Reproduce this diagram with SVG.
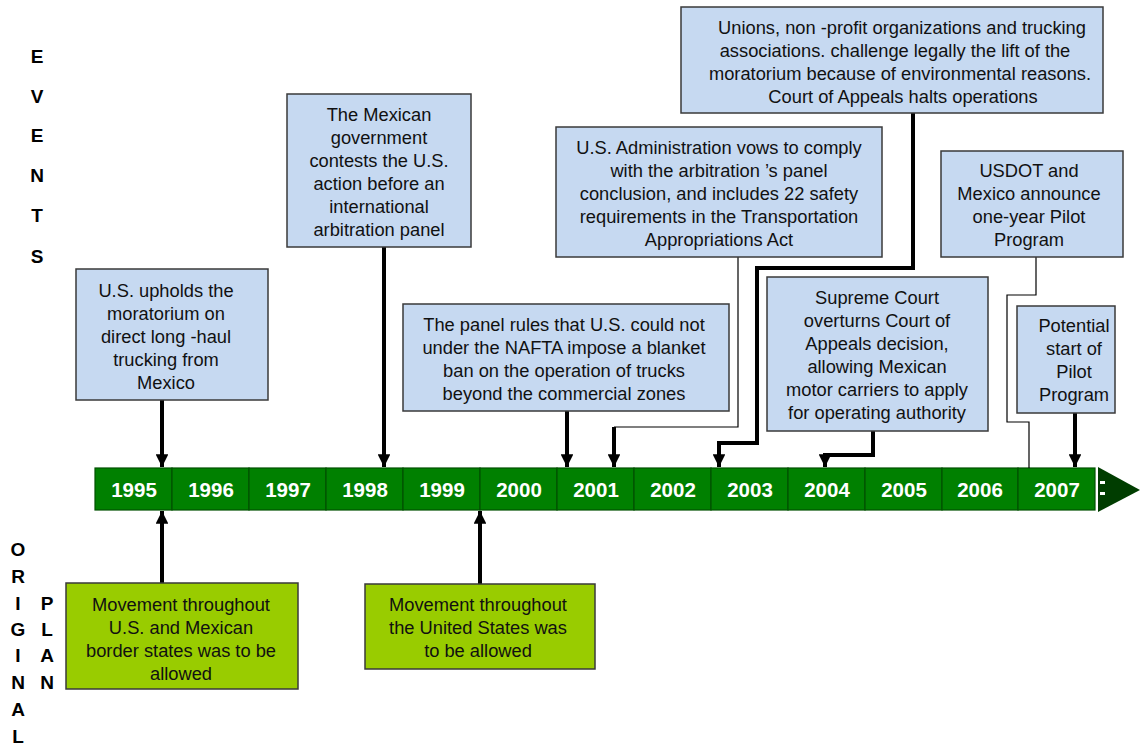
<svg xmlns="http://www.w3.org/2000/svg" width="1140" height="746" viewBox="0 0 1140 746">
<defs>
<style>
.ev{fill:#c6d9f1;stroke:#3a3a3a;stroke-width:1.5}
.op{fill:#99cc00;stroke:#3a3a3a;stroke-width:1.5}
.t{font-family:"Liberation Sans",Arial,sans-serif;font-size:18.3px;fill:#111;text-anchor:middle}
.yr{font-family:"Liberation Sans",Arial,sans-serif;font-size:20.5px;font-weight:bold;fill:#fff;text-anchor:middle}
.lb{font-family:"Liberation Sans",Arial,sans-serif;font-size:19px;font-weight:bold;fill:#000;text-anchor:middle}
.thick{fill:none;stroke:#000;stroke-width:4}
.thin{fill:none;stroke:#000;stroke-width:1.2}
.cell{fill:#008000;stroke:#005000;stroke-width:1.2}
</style>
<marker id="ah" viewBox="0 0 10 10" refX="10" refY="5" markerWidth="3.2" markerHeight="3.2" orient="auto" markerUnits="strokeWidth">
<path d="M0,0 L10,5 L0,10 z" fill="#000"/>
</marker>
</defs>
<rect width="1140" height="746" fill="#fff"/>

<g id="side-labels">
<text class="lb" x="37" y="63">E</text>
<text class="lb" x="37" y="103">V</text>
<text class="lb" x="37" y="142">E</text>
<text class="lb" x="37" y="182">N</text>
<text class="lb" x="37" y="222">T</text>
<text class="lb" x="37" y="263">S</text>
<text class="lb" x="18" y="556">O</text>
<text class="lb" x="18" y="583">R</text>
<text class="lb" x="18" y="610">I</text>
<text class="lb" x="18" y="636">G</text>
<text class="lb" x="18" y="662">I</text>
<text class="lb" x="18" y="689">N</text>
<text class="lb" x="18" y="716">A</text>
<text class="lb" x="18" y="743">L</text>
<text class="lb" x="47" y="610">P</text>
<text class="lb" x="47" y="636">L</text>
<text class="lb" x="47" y="662">A</text>
<text class="lb" x="47" y="689">N</text>
</g>

<g id="timeline">
<rect class="cell" x="95" y="468" width="77" height="42"/>
<rect class="cell" x="172" y="468" width="77" height="42"/>
<rect class="cell" x="249" y="468" width="77" height="42"/>
<rect class="cell" x="326" y="468" width="77" height="42"/>
<rect class="cell" x="403" y="468" width="77" height="42"/>
<rect class="cell" x="480" y="468" width="77" height="42"/>
<rect class="cell" x="557" y="468" width="77" height="42"/>
<rect class="cell" x="634" y="468" width="77" height="42"/>
<rect class="cell" x="711" y="468" width="77" height="42"/>
<rect class="cell" x="788" y="468" width="77" height="42"/>
<rect class="cell" x="865" y="468" width="77" height="42"/>
<rect class="cell" x="942" y="468" width="76" height="42"/>
<rect class="cell" x="1018" y="468" width="77" height="42"/>
<text class="yr" x="134" y="497">1995</text>
<text class="yr" x="211" y="497">1996</text>
<text class="yr" x="288" y="497">1997</text>
<text class="yr" x="365" y="497">1998</text>
<text class="yr" x="442" y="497">1999</text>
<text class="yr" x="519" y="497">2000</text>
<text class="yr" x="596" y="497">2001</text>
<text class="yr" x="673" y="497">2002</text>
<text class="yr" x="750" y="497">2003</text>
<text class="yr" x="827" y="497">2004</text>
<text class="yr" x="904" y="497">2005</text>
<text class="yr" x="980" y="497">2006</text>
<text class="yr" x="1057" y="497">2007</text>
<path d="M1098,467 L1140,490 L1098,512 z" fill="#003d00"/>
<rect x="1100" y="481" width="5" height="3" fill="#fff"/>
<rect x="1100" y="492" width="5" height="3" fill="#fff"/>
</g>

<g id="connectors">
<path class="thick" d="M162,400 V467" marker-end="url(#ah)"/>
<path class="thick" d="M384,247 V467" marker-end="url(#ah)"/>
<path class="thick" d="M567,411 V467" marker-end="url(#ah)"/>
<path class="thin" d="M738,257 V427 H614"/>
<path class="thick" d="M614,427 V467" marker-end="url(#ah)"/>
<path class="thick" d="M913,113 V268 H757 V443 H719 V467" marker-end="url(#ah)"/>
<path class="thick" d="M873,431 V455 H825 V467" marker-end="url(#ah)"/>
<path class="thin" d="M1036,257 V295 H1007 V422 H1029 V468"/>
<path class="thick" d="M1075,413 V467" marker-end="url(#ah)"/>
<path class="thick" d="M162,583 V511" marker-end="url(#ah)"/>
<path class="thick" d="M480,584 V511" marker-end="url(#ah)"/>
</g>

<g id="ev1995">
<rect class="ev" x="76" y="269" width="192" height="131"/>
<text class="t"><tspan x="166" y="297">U.S. upholds the</tspan><tspan x="166" y="320">moratorium on</tspan><tspan x="166" y="343">direct long -haul</tspan><tspan x="166" y="366">trucking from</tspan><tspan x="166" y="389">Mexico</tspan></text>
</g>

<g id="ev1998">
<rect class="ev" x="287" y="94" width="184" height="153"/>
<text class="t"><tspan x="379" y="121">The Mexican</tspan><tspan x="379" y="144">government</tspan><tspan x="379" y="167">contests the U.S.</tspan><tspan x="379" y="190">action before an</tspan><tspan x="379" y="213">international</tspan><tspan x="379" y="236">arbitration panel</tspan></text>
</g>

<g id="ev2001panel">
<rect class="ev" x="403" y="304" width="326" height="107"/>
<text class="t"><tspan x="564" y="331">The panel rules that U.S. could not</tspan><tspan x="564" y="354">under the NAFTA impose a blanket</tspan><tspan x="564" y="377">ban on the operation of trucks</tspan><tspan x="564" y="400">beyond the commercial zones</tspan></text>
</g>

<g id="ev2001admin">
<rect class="ev" x="556" y="127" width="326" height="130"/>
<text class="t"><tspan x="719" y="154">U.S. Administration vows to comply</tspan><tspan x="719" y="177">with the arbitration ’s panel</tspan><tspan x="719" y="200">conclusion, and includes 22 safety</tspan><tspan x="719" y="223">requirements in the Transportation</tspan><tspan x="719" y="246">Appropriations Act</tspan></text>
</g>

<g id="ev2003unions">
<rect class="ev" x="681" y="7" width="422" height="106"/>
<text class="t"><tspan x="902" y="34">Unions, non -profit organizations and trucking</tspan><tspan x="895" y="57">associations. challenge legally the lift of the</tspan><tspan x="900" y="80">moratorium because of environmental reasons.</tspan><tspan x="903" y="103">Court of Appeals halts operations</tspan></text>
</g>

<g id="ev2004supreme">
<rect class="ev" x="767" y="277" width="221" height="154"/>
<text class="t"><tspan x="877" y="304">Supreme Court</tspan><tspan x="877" y="327">overturns Court of</tspan><tspan x="877" y="350">Appeals decision,</tspan><tspan x="877" y="373">allowing Mexican</tspan><tspan x="877" y="396">motor carriers to apply</tspan><tspan x="877" y="419">for operating authority</tspan></text>
</g>

<g id="ev2007usdot">
<rect class="ev" x="941" y="151" width="182" height="106"/>
<text class="t"><tspan x="1029" y="177">USDOT and</tspan><tspan x="1029" y="200">Mexico announce</tspan><tspan x="1029" y="223">one-year Pilot</tspan><tspan x="1029" y="246">Program</tspan></text>
</g>

<g id="ev2007potential">
<rect class="ev" x="1017" y="306" width="98" height="107"/>
<text class="t"><tspan x="1074" y="332">Potential</tspan><tspan x="1074" y="355">start of</tspan><tspan x="1074" y="378">Pilot</tspan><tspan x="1074" y="401">Program</tspan></text>
</g>

<g id="plan1995">
<rect class="op" x="66" y="583" width="232" height="106"/>
<text class="t"><tspan x="181" y="611">Movement throughout</tspan><tspan x="181" y="634">U.S. and Mexican</tspan><tspan x="181" y="657">border states was to be</tspan><tspan x="181" y="680">allowed</tspan></text>
</g>

<g id="plan2000">
<rect class="op" x="365" y="584" width="230" height="85"/>
<text class="t"><tspan x="478" y="611">Movement throughout</tspan><tspan x="478" y="634">the United States was</tspan><tspan x="478" y="657">to be allowed</tspan></text>
</g>
</svg>
